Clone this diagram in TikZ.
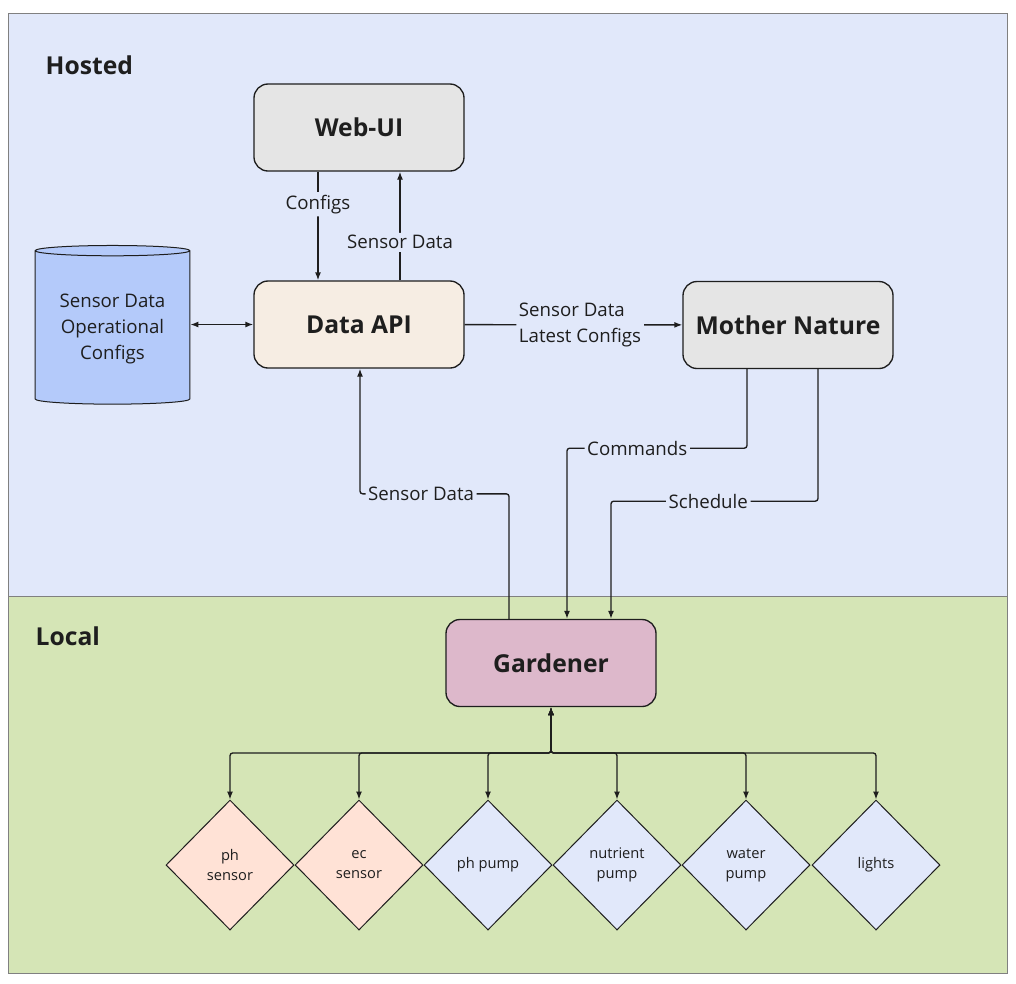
\documentclass[tikz,border=0pt]{standalone}
\usepackage{fontspec}
\setmainfont{Open Sans}
\usetikzlibrary{shapes.geometric,arrows.meta,calc}

\definecolor{hostedbg}{RGB}{225,232,250}
\definecolor{localbg}{RGB}{213,229,182}
\definecolor{greybox}{RGB}{229,229,229}
\definecolor{apibox}{RGB}{246,237,227}
\definecolor{gardenbox}{RGB}{221,184,203}
\definecolor{dbfill}{RGB}{180,202,250}
\definecolor{sensorfill}{RGB}{255,226,214}
\definecolor{inkcol}{RGB}{30,30,30}

\tikzset{every picture/.style={line width=1pt}}
\tikzset{
	svc/.style={draw=inkcol, rounded corners=10.5pt, minimum width=157.5pt, minimum height=65.25pt, font=\fontsize{18.5}{22}\selectfont\bfseries, text=inkcol},
	dev/.style={diamond, draw=inkcol, line width=0.75pt, minimum width=96pt, minimum height=97.5pt, inner sep=0pt, align=center, font=\fontsize{11}{15}\selectfont, text=inkcol},
	lbl/.style={fill=hostedbg, inner sep=2pt, font=\fontsize{14}{19.5}\selectfont, text=inkcol},
	flow/.style={-{Latex[length=6pt,width=4.5pt]}, draw=inkcol, rounded corners=2pt},
	area/.style={draw=gray, line width=0.75pt},
	zone/.style={anchor=west, inner sep=0pt, font=\fontsize{18.5}{22}\selectfont\bfseries, text=inkcol},
}

\begin{document}
\begin{tikzpicture}[x=0.75pt,y=0.75pt,yscale=-1,xscale=1]
	\useasboundingbox (0,0) rectangle (1016,983);
	
	%Areas
	\draw [area, fill=hostedbg] (8,13) rectangle (1007,596);
	\draw [area, fill=localbg] (8,596) rectangle (1007,973);
	\node [zone] (hosted) at (45,65) {Hosted};
	\node [zone] (local) at (35,636) {Local};
	
	%Services
	\node [svc, fill=greybox] (webui) at (359,127.5) {Web-UI};
	\node [svc, fill=apibox] (api) at (359,324.5) {Data API};
	\node [svc, fill=greybox] (mother) at (788,325) {Mother Nature};
	\node [svc, fill=gardenbox] (gardener) at (551,663) {Gardener};
	
	%Database
	\node [cylinder, shape border rotate=90, aspect=0.09, draw=inkcol, line width=0.75pt, fill=dbfill, minimum width=116pt, minimum height=119pt, align=center, font=\fontsize{14}{19.5}\selectfont, text=inkcol] (db) at (112.5,328.5) {Sensor Data\\Operational\\Configs};
	
	%Devices
	\node [dev, fill=sensorfill] (phsensor) at (230,865) {ph\\sensor};
	\node [dev, fill=sensorfill] (ecsensor) at (359,865) {ec\\sensor};
	\node [dev, fill=hostedbg] (phpump) at (488,865) {ph pump};
	\node [dev, fill=hostedbg] (nutrient) at (617,865) {nutrient\\pump};
	\node [dev, fill=hostedbg] (water) at (746,865) {water\\pump};
	\node [dev, fill=hostedbg] (lights) at (876,865) {lights};
	
	%Hosted flows
	\draw [flow] ($(webui.south)+(-41,0)$) -- node [lbl, pos=0.3] {Configs} ($(api.north)+(-41,0)$);
	\draw [flow] ($(api.north)+(41,0)$) -- node [lbl, pos=0.35] {Sensor Data} ($(webui.south)+(41,0)$);
	\draw [flow, {Latex[length=6pt,width=4.5pt]}-{Latex[length=6pt,width=4.5pt]}] (db.east |- api) -- (api);
	\draw [flow] (api) -- node [lbl, align=left, pos=0.53] {Sensor Data\\Latest Configs} (mother);
	
	%Hosted to local
	\draw [flow] ($(gardener.north)+(-42,0)$) -- ++(0,-125) -- node [lbl, pos=0.59] {Sensor Data} ++(-149,0) -- ($(api.south)+(1,0)$);
	\draw [flow] ($(mother.south)+(-41,0)$) -- ++(0,79) -- node [lbl, pos=0.61] {Commands} ++(-180,0) -- ($(gardener.north)+(16,0)$);
	\draw [flow] ($(mother.south)+(30,0)$) -- ++(0,132) -- node [lbl, pos=0.53] {Schedule} ++(-207,0) -- ($(gardener.north)+(60,0)$);
	
	%Device bus
	\coordinate (bus) at (551,753);
	\foreach \dv in {phsensor,ecsensor,phpump,nutrient,water,lights}
		\draw [flow, {Latex[length=6pt,width=4.5pt]}-{Latex[length=6pt,width=4.5pt]}] (gardener.south) -- (gardener.south |- bus) -| (\dv.north);
	
\end{tikzpicture}
\end{document}
